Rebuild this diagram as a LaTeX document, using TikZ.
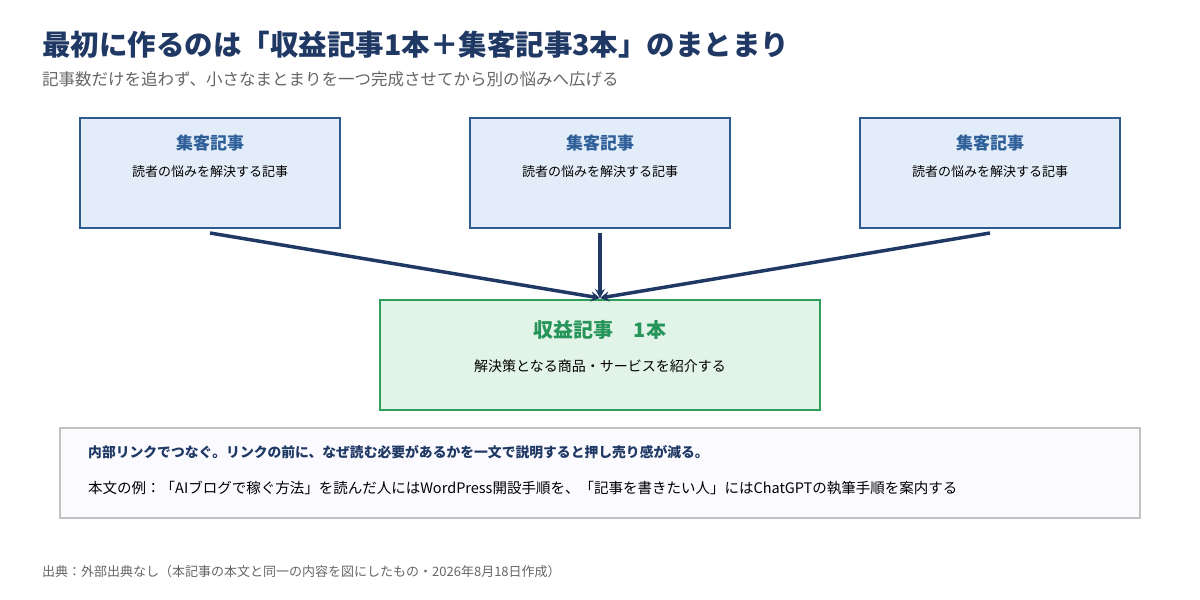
\documentclass[tikz,border=0pt]{standalone}
\usepackage{fontspec}
\setmainfont{Noto Sans CJK JP}
\usetikzlibrary{arrows.meta}
\definecolor{navy}{HTML}{1F3864}
\definecolor{bluebd}{HTML}{2F5A8F}
\definecolor{bluefill}{HTML}{E3EDF9}
\definecolor{bluetxt}{HTML}{2E5F99}
\definecolor{greenbd}{HTML}{2E9E5B}
\definecolor{greenfill}{HTML}{E2F3E8}
\definecolor{greentxt}{HTML}{27955A}
\definecolor{gray}{HTML}{666666}
\begin{document}
\begin{tikzpicture}[x=1pt,y=-1pt,
  top/.style={draw=bluebd,fill=bluefill,line width=2.5pt,minimum width=260pt,minimum height=110pt,inner sep=0},
  res/.style={draw=greenbd,fill=greenfill,line width=2.5pt,minimum width=440pt,minimum height=110pt,inner sep=0},
  arr/.style={draw=navy,line width=3.5pt,-{Stealth[length=9pt,width=10pt]}},
  ttl/.style={font=\fontsize{17}{20}\selectfont\bfseries,text=bluetxt},
  sub/.style={font=\fontsize{13}{15}\selectfont,text=black}]
\useasboundingbox (0,0) rectangle (1200,600);
\fill[white] (0,0) rectangle (1200,600);
\node[anchor=west,text=navy,font=\fontsize{28.5}{32}\selectfont\bfseries,inner sep=0] (title) at (42,45) {最初に作るのは「収益記事1本＋集客記事3本」のまとまり};
\node[anchor=west,text=gray,font=\fontsize{16.5}{19}\selectfont,inner sep=0] (subt) at (42,79) {記事数だけを追わず、小さなまとまりを一つ完成させてから別の悩みへ広げる};
\foreach \i/\x in {a/210,b/600,c/990}{
  \node[top] (\i) at (\x,173) {};
  \node[ttl] (\i t) at (\x,143) {集客記事};
  \node[sub] (\i s) at (\x,172) {読者の悩みを解決する記事};
}
\node[res] (r) at (600,355) {};
\node[font=\fontsize{20}{24}\selectfont\bfseries,text=greentxt] (rt) at (600,330) {収益記事\quad 1本};
\node[sub,font=\fontsize{14}{16}\selectfont] (rs) at (600,366) {解決策となる商品・サービスを紹介する};
\coordinate (tip) at (600,298);
\coordinate (sa) at (210,233);
\coordinate (sb) at (600,233);
\coordinate (sc) at (990,233);
\draw[arr] (sa) -- (tip);
\draw[arr] (sb) -- (tip);
\draw[arr] (sc) -- (tip);
\node[draw=gray!40,fill=blue!2!white,line width=2pt,minimum width=1080pt,minimum height=90pt] (note) at (600,473) {};
\node[anchor=west,text=navy,font=\fontsize{13.8}{16}\selectfont\bfseries,inner sep=0] (n1) at (88,452) {内部リンクでつなぐ。リンクの前に、なぜ読む必要があるかを一文で説明すると押し売り感が減る。};
\node[anchor=west,font=\fontsize{14.5}{16}\selectfont,inner sep=0] (n2) at (88,488) {本文の例：「AIブログで稼ぐ方法」を読んだ人にはWordPress開設手順を、「記事を書きたい人」にはChatGPTの執筆手順を案内する};
\node[anchor=west,text=gray,font=\fontsize{13}{15}\selectfont,inner sep=0] (src) at (42,572) {出典：外部出典なし（本記事の本文と同一の内容を図にしたもの・2026年8月18日作成）};
\end{tikzpicture}
\end{document}
